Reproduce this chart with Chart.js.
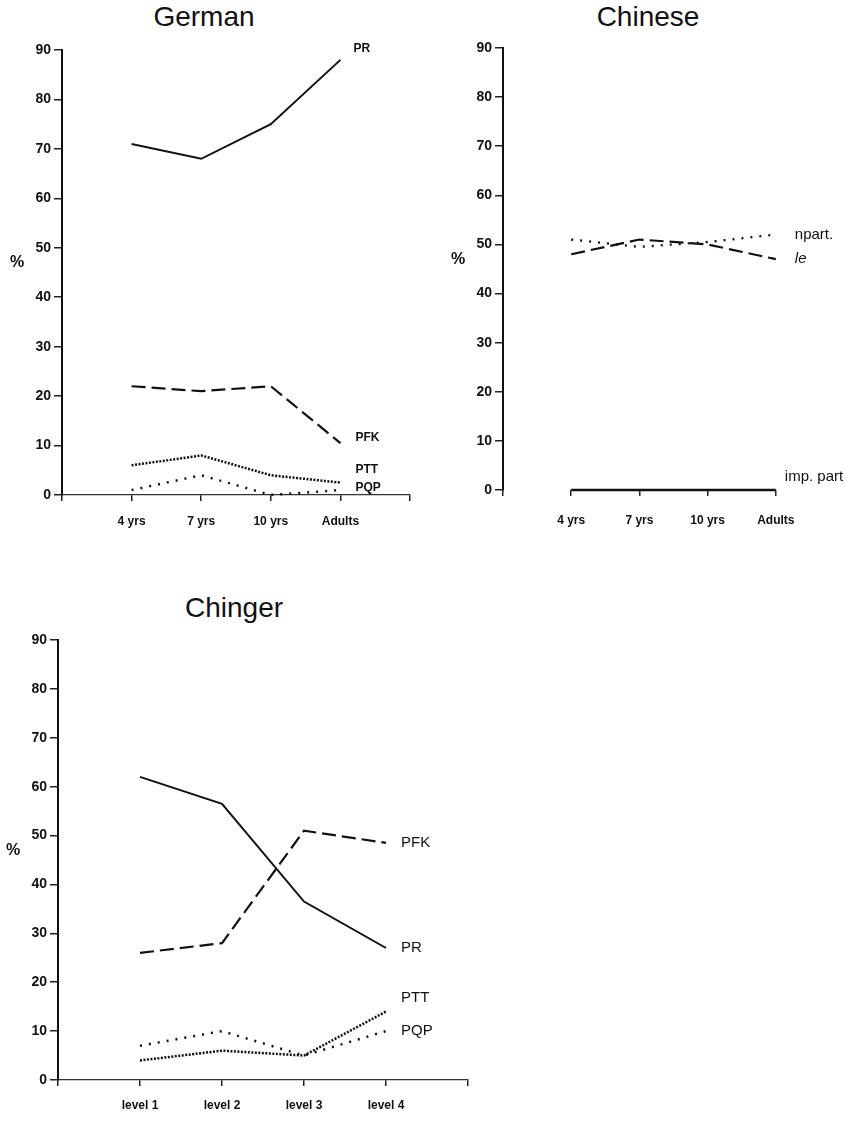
<!DOCTYPE html>
<html lang="en">
<head>
  <meta charset="UTF-8" />
  <title>German / Chinese / Chinger</title>
  <script src="https://cdn.jsdelivr.net/npm/chart.js"></script>
  <style>
    body { margin: 0; background: #fff; width: 861px; height: 1121px; position: relative; overflow: hidden; }
    .title { position: absolute; font-family: 'Liberation Sans', Arial, sans-serif; font-size: 28px; color: #111; transform: translateX(-50%); }
    .box { position: absolute; }
  </style>
</head>
<body>

  <div class="title" style="left:204px; top:1px;">German</div>
  <div class="title" style="left:648px; top:1px;">Chinese</div>
  <div class="title" style="left:234px; top:592px;">Chinger</div>

  <div class="box" style="left:0; top:0; width:430px; height:545px;"><canvas id="german"></canvas></div>
  <div class="box" style="left:430px; top:0; width:431px; height:545px;"><canvas id="chinese"></canvas></div>
  <div class="box" style="left:0; top:560px; width:560px; height:561px;"><canvas id="chinger"></canvas></div>

  <script>
    // ---- data ----
    const ageGroups = ['4 yrs', '7 yrs', '10 yrs', 'Adults'];
    const levels = ['level 1', 'level 2', 'level 3', 'level 4'];
    const yTicks = [0, 10, 20, 30, 40, 50, 60, 70, 80, 90];

    const germanPR  = [71, 68, 75, 88];
    const germanPFK = [22, 21, 22, 10.5];
    const germanPTT = [6, 8, 4, 2.5];
    const germanPQP = [1, 4, 0, 1];

    const chineseNpart   = [51, 49.5, 50.5, 52];
    const chineseLe      = [48, 51, 50, 47];
    const chineseImpPart = [0, 0, 0, 0];

    const chingerPR  = [62, 56.5, 36.5, 27];
    const chingerPFK = [26, 28, 51, 48.5];
    const chingerPTT = [4, 6, 5, 14];
    const chingerPQP = [7, 10, 5, 10];

    const tickFont = "'Liberation Sans', Arial, sans-serif";
    const textFont = "'Liberation Sans', Arial, sans-serif";

    // empty slot at both ends, like the original axes
    const pad = arr => [null, ...arr, null];

    const SOLID = [];
    const LONGDASH = [14, 6];
    const FINEDOT = [2, 1.5];
    const DOTS = [2, 7];

    // draws the series names next to the last point and the "%" axis label
    const annot = {
      id: 'annot',
      afterDatasetsDraw(chart, args, opts) {
        const ctx = chart.ctx;
        const ys = chart.scales.y;
        ctx.save();
        ctx.fillStyle = '#111';
        ctx.textBaseline = 'middle';
        ctx.textAlign = 'left';
        (opts.labels || []).forEach((l, i) => {
          const pts = chart.getDatasetMeta(i).data.filter(p => !p.skip);
          const last = pts[pts.length - 1];
          if (!last) return;
          ctx.font = l.font;
          ctx.fillText(l.text, last.x + l.dx, last.y + l.dy);
        });
        ctx.font = 'bold 16px ' + tickFont;
        ctx.textAlign = 'center';
        ctx.fillText('%', chart.chartArea.left - 45, ys.getPixelForValue(47));
        ctx.restore();
      }
    };

    function makeChart(id, cats, series, o) {
      const datasets = series.map(s => ({
        label: s.text,
        data: pad(s.data),
        borderColor: '#111',
        borderWidth: s.width,
        borderDash: s.dash,
        pointRadius: 0,
        tension: 0,
        fill: false,
        clip: false
      }));

      return new Chart(document.getElementById(id), {
        type: 'line',
        data: { labels: pad(cats).map(c => c || ''), datasets },
        plugins: [annot],
        options: {
          responsive: true,
          maintainAspectRatio: false,
          animation: false,
          layout: { padding: o.padding },
          plugins: {
            legend: { display: false },
            tooltip: { enabled: false },
            annot: { labels: series.map(s => ({ text: s.text, dx: s.dx, dy: s.dy, font: s.font })) }
          },
          scales: {
            x: {
              type: 'category',
              offset: false,
              border: o.xBorder,
              grid: {
                display: true, drawOnChartArea: false, drawTicks: true, tickLength: 6, lineWidth: 1.5,
                color: c => (o.hideLastTick && c.index === 5) ? 'rgba(0,0,0,0)' : '#222'
              },
              ticks: {
                autoSkip: false, maxRotation: 0, color: '#111', padding: o.xPad,
                font: { family: tickFont, size: 12, weight: 'bold' }
              },
              afterFit: s => { s.height = o.xHeight; }
            },
            y: {
              min: 0, max: 90,
              afterBuildTicks: s => { s.ticks = yTicks.map(v => ({ value: v })); },
              border: { display: true, color: '#111', width: 2 },
              grid: { display: true, drawOnChartArea: false, drawTicks: true, tickLength: 8, color: '#222', lineWidth: 1.5 },
              ticks: {
                color: '#111', padding: 3,
                font: { family: tickFont, size: 14, weight: 'bold' }
              },
              afterFit: s => { s.width = o.yWidth; }
            }
          }
        }
      });
    }

    const smallBold = 'bold 12px ' + tickFont;
    const plain = '15px ' + textFont;

    makeChart('german', ageGroups, [
      { data: germanPR,  text: 'PR',  dash: SOLID,    width: 2,   dx: 13, dy: -11, font: smallBold },
      { data: germanPFK, text: 'PFK', dash: LONGDASH, width: 2.2, dx: 15, dy: -5,  font: smallBold },
      { data: germanPTT, text: 'PTT', dash: FINEDOT,  width: 2.5, dx: 15, dy: -13, font: smallBold },
      { data: germanPQP, text: 'PQP', dash: DOTS,     width: 2.5, dx: 15, dy: -2,  font: smallBold }
    ], {
      padding: { top: 50, right: 20, bottom: 0, left: 0 },
      yWidth: 62, xHeight: 50, xPad: 13,
      xBorder: { display: true, color: '#333', width: 1.3, dash: [6, 3] }
    });

    makeChart('chinese', ageGroups, [
      { data: chineseNpart,   text: 'npart.',    dash: DOTS,     width: 2.3, dx: 19, dy: 0,   font: plain },
      { data: chineseLe,      text: 'le',        dash: LONGDASH, width: 2.2, dx: 19, dy: 0,   font: 'italic ' + plain },
      { data: chineseImpPart, text: 'imp. part', dash: SOLID,    width: 2.5, dx: 9,  dy: -13, font: plain }
    ], {
      padding: { top: 48, right: 14, bottom: 0, left: 0 },
      yWidth: 73, xHeight: 55, xPad: 17,
      hideLastTick: true,
      xBorder: { display: false }
    });

    makeChart('chinger', levels, [
      { data: chingerPR,  text: 'PR',  dash: SOLID,    width: 2,   dx: 15, dy: 0,   font: plain },
      { data: chingerPFK, text: 'PFK', dash: LONGDASH, width: 2.2, dx: 15, dy: 0,   font: plain },
      { data: chingerPTT, text: 'PTT', dash: FINEDOT,  width: 2.5, dx: 15, dy: -14, font: plain },
      { data: chingerPQP, text: 'PQP', dash: DOTS,     width: 2.5, dx: 15, dy: 0,   font: plain }
    ], {
      padding: { top: 80, right: 92, bottom: 0, left: 0 },
      yWidth: 58, xHeight: 41, xPad: 12,
      xBorder: { display: true, color: '#333', width: 1.3, dash: [10, 3, 2, 3] }
    });
  </script>

</body>
</html>
